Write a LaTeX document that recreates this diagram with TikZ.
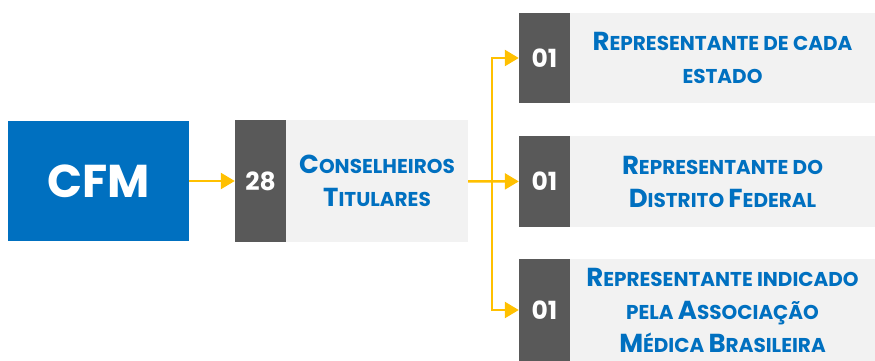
\documentclass[tikz,border=0pt]{standalone}
\usepackage{fontspec}
\setmainfont{Poppins}
\usepackage{xcolor}
\usetikzlibrary{arrows.meta,positioning}
\definecolor{cfmblue}{HTML}{0070C0}
\definecolor{darkbox}{HTML}{595959}
\definecolor{lightbox}{HTML}{F2F2F2}
\definecolor{gold}{HTML}{FFC000}
\newcommand{\bigc}[1]{{\fontsize{26}{33}\selectfont #1}}
\tikzset{
  numbox/.style={fill=darkbox,text=white,inner sep=0pt,minimum width=51pt,
    font={\fontsize{25}{30}\selectfont\bfseries}},
  textbox/.style={fill=lightbox,text=cfmblue,inner sep=0pt,align=center,
    font={\fontsize{20}{33}\selectfont\bfseries}},
  goldline/.style={draw=gold,line width=2.5pt},
  goldarrow/.style={goldline,-{Triangle[length=14pt,width=16pt]}}
}

\begin{document}
\begin{tikzpicture}[x=1pt,y=-1pt]
\useasboundingbox (0,0) rectangle (875,360);
\node[fill=cfmblue,text=white,minimum width=181pt,minimum height=120pt,
  font={\fontsize{46}{50}\selectfont\bfseries}] (cfm) at (98.5,181) {CFM};

\node[numbox,minimum height=122pt] (n28) at (260.5,181) {28};
\node[textbox,minimum width=182pt,minimum height=122pt] (t28) at (377,181)
  {\bigc{C}ONSELHEIROS\\\bigc{T}ITULARES};

\node[numbox,minimum height=90pt] (n1) at (544.5,58) {01};
\node[textbox,minimum width=305pt,minimum height=90pt] (t1) at (722.5,58)
  {\bigc{R}EPRESENTANTE DE CADA\\ESTADO};
\node[numbox,minimum height=91pt] (n2) at (544.5,181.5) {01};
\node[textbox,minimum width=305pt,minimum height=91pt] (t2) at (722.5,181.5)
  {\bigc{R}EPRESENTANTE DO\\\bigc{D}ISTRITO \bigc{F}EDERAL};
\node[numbox,minimum height=102pt] (n3) at (544.5,310) {01};
\node[textbox,minimum width=305pt,minimum height=102pt] (t3) at (722.5,310)
  {\bigc{R}EPRESENTANTE INDICADO\\PELA \bigc{A}SSOCIAÇÃO\\\bigc{M}ÉDICA \bigc{B}RASILEIRA};

\coordinate (split) at (492,181);
\draw[goldarrow] (cfm) -- (n28);
\draw[goldarrow] (t28) -- (n2);
\draw[goldarrow] (split) |- (n1);
\draw[goldarrow] (split) |- (n3);
\end{tikzpicture}
\end{document}
